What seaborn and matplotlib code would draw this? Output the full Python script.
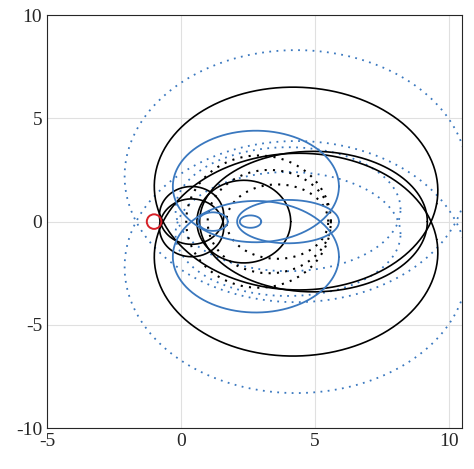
import numpy as np
import pandas as pd
import matplotlib
matplotlib.use("Agg")
import matplotlib.pyplot as plt
import seaborn as sns

# loop parameters: centre x, centre y, half-width, half-height, tilt (deg)
black_solid = [(4.3, 1.6, 5.3, 4.9, -8), (4.3, -1.6, 5.3, 4.9, 8),
               (0.4, 0.3, 1.2, 1.4, 0), (0.4, -0.3, 1.2, 1.4, 0),
               (2.35, 0.0, 1.75, 2.0, 0), (4.95, 0.0, 4.25, 3.4, 0)]
black_dotted = [(2.9, 0.0, 2.7, 3.2, 0), (3.3, 0.0, 2.3, 2.5, 0), (3.6, 0.0, 1.9, 1.8, 0)]
blue_solid = [(2.8, 1.7, 3.1, 2.7, 0), (2.8, -1.7, 3.1, 2.7, 0),
              (4.0, 0.0, 1.9, 1.05, 0), (2.6, 0.0, 0.4, 0.3, 0), (1.2, 0.0, 0.55, 0.45, 0)]
blue_dotted = [(4.3, 2.2, 6.4, 6.1, 0), (4.3, -2.2, 6.4, 6.1, 0),
               (4.0, 0.6, 4.2, 3.0, 0), (4.0, -0.6, 4.2, 3.0, 0)]
critical = (-1.0, 0.0)
xticks = [-5, 0, 5, 10]
yticks = [-10, -5, 0, 5, 10]

def loop(p, n=400):
    cx, cy, a, b, ang = p
    t = np.linspace(0, 2 * np.pi, n)
    r = np.deg2rad(ang)
    x0, y0 = a * np.cos(t), b * np.sin(t)
    return pd.DataFrame({"x": cx + x0 * np.cos(r) - y0 * np.sin(r),
                         "y": cy + x0 * np.sin(r) + y0 * np.cos(r), "i": np.arange(n)})

sns.set_style("whitegrid")
plt.rcParams['font.family'] = ['Liberation Serif', 'DejaVu Serif']
plt.rcParams['axes.unicode_minus'] = False
fig = plt.figure(figsize=(4.74, 4.69), dpi=100)
ax = fig.add_axes([0.099, 0.087, 0.876, 0.881])
blue = "#3a78bf"
for p in blue_dotted:
    sns.lineplot(data=loop(p), x="x", y="y", sort=False, estimator=None, ax=ax, color=blue, ls=(0, (1, 3)), lw=1.3)
for p in black_dotted:
    sns.lineplot(data=loop(p), x="x", y="y", sort=False, estimator=None, ax=ax, color="black", ls=(0, (1, 3)), lw=1.5)
for p in black_solid:
    sns.lineplot(data=loop(p), x="x", y="y", sort=False, estimator=None, ax=ax, color="black", lw=1.2)
for p in blue_solid:
    sns.lineplot(data=loop(p), x="x", y="y", sort=False, estimator=None, ax=ax, color=blue, lw=1.3)
sns.scatterplot(x=[critical[0]], y=[critical[1]], ax=ax, marker="o", s=110,
                facecolor="none", edgecolor="#d62027", linewidth=1.4, zorder=5)
ax.set_xlim(-5, 10.5)
ax.set_ylim(-10, 10)
ax.set_xticks(xticks)
ax.set_yticks(yticks)
ax.set_xlabel("")
ax.set_ylabel("")
ax.grid(True, color="#e0e0e0", lw=0.8)
for s in ax.spines.values():
    s.set_color("#262626")
    s.set_linewidth(0.8)
ax.tick_params(labelsize=14, colors="#262626", direction="in", length=4)
fig.savefig("out.png", dpi=100)
